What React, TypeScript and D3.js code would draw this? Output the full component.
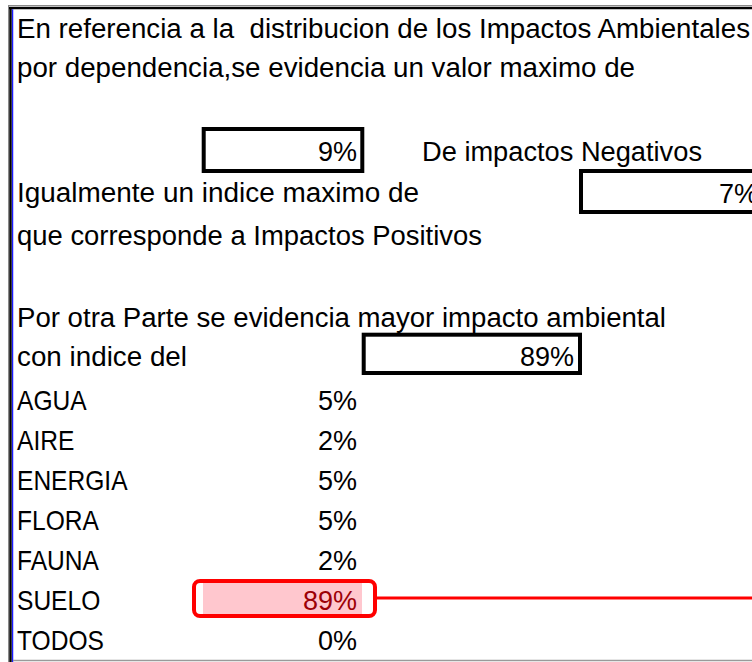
import React from "react";
import * as d3 from "d3";

// ---------- data ----------
const introLines = [
  "En referencia a la  distribucion de los Impactos Ambientales",
  "por dependencia,se evidencia un valor maximo de",
];
const negativeLabel = "De impactos Negativos";
const positiveLines = ["Igualmente un indice maximo de", "que corresponde a Impactos Positivos"];
const overallLines = ["Por otra Parte se evidencia mayor impacto ambiental", "con indice del"];
const negativeMax = 9;
const positiveMax = 7;
const overallMax = 89;
const categories = ["AGUA", "AIRE", "ENERGIA", "FLORA", "FAUNA", "SUELO", "TODOS"];
const values = [5, 2, 5, 5, 2, 89, 0];
const highlighted = "SUELO";

// ---------- layout ----------
const W = 752;
const H = 662;
const FONT = "'Liberation Sans', Arial, sans-serif";
const FS = 27;
const LABEL_X = 17;
const LABEL_SQUEEZE = 0.91;
const VALUE_COL: [number, number] = [203, 363];
const VALUE_RIGHT = VALUE_COL[1] - 6;
const fmt = d3.format(".0%");
const pct = (v: number) => fmt(v / 100);

export default function App() {
  const rowY = d3.scaleBand<string>().domain(categories).range([378, 658]).paddingInner(0);
  const bw = rowY.bandwidth();

  const txt = (s: string, x: number, y: number, len?: number, extra: any = {}) => (
    <text
      x={x}
      y={y}
      fontFamily={FONT}
      fontSize={FS}
      fill="#000"
      style={{ whiteSpace: "pre" }}
      {...(len ? { textLength: len, lengthAdjust: "spacingAndGlyphs" } : {})}
      {...extra}
    >
      {s}
    </text>
  );

  const hy = rowY(highlighted)!;

  return (
    <svg
      width={W}
      height={H}
      viewBox={`0 0 ${W} ${H}`}
      style={{ position: "fixed", left: 0, top: 0, background: "#fff" }}
    >
      <rect x={0} y={0} width={W} height={H} fill="#fff" />

      {/* frame */}
      <line x1={8} x2={W} y1={5.5} y2={5.5} stroke="#8a8a8a" strokeWidth={1} />
      <line x1={9} x2={W} y1={8} y2={8} stroke="#000" strokeWidth={2.5} />
      <line x1={8.5} x2={8.5} y1={5} y2={H} stroke="#8a8a8a" strokeWidth={1} />
      <line x1={10.5} x2={10.5} y1={7} y2={H} stroke="#000" strokeWidth={2.5} />
      <line x1={12.6} x2={12.6} y1={9.3} y2={H} stroke="#1a1aff" strokeWidth={1.3} />
      <line x1={13} x2={W} y1={660.5} y2={660.5} stroke="#9a9a9a" strokeWidth={1.5} />

      {/* intro text */}
      {txt(introLines[0], LABEL_X, 38, 733)}
      {txt(introLines[1], LABEL_X, 77, 618)}

      {/* negative max */}
      <rect x={VALUE_COL[0] + 0.7} y={129} width={VALUE_COL[1] - VALUE_COL[0] - 1.4} height={42} fill="none" stroke="#000" strokeWidth={4} />
      {txt(pct(negativeMax), VALUE_RIGHT, 161, undefined, { textAnchor: "end" })}
      {txt(negativeLabel, 422, 161, 280)}

      {/* positive max */}
      {txt(positiveLines[0], LABEL_X, 202, 402)}
      <rect x={581} y={171} width={300} height={41} fill="none" stroke="#000" strokeWidth={4} />
      {txt(pct(positiveMax), 758, 203, undefined, { textAnchor: "end" })}
      {txt(positiveLines[1], LABEL_X, 245, 465)}

      {/* overall */}
      {txt(overallLines[0], LABEL_X, 327, 649)}
      {txt(overallLines[1], LABEL_X, 366, 170)}
      <rect x={VALUE_COL[1] + 0.7} y={334.7} width={216.3} height={38.3} fill="none" stroke="#000" strokeWidth={4} />
      {txt(pct(overallMax), 574, 366, undefined, { textAnchor: "end" })}

      {/* highlight under SUELO value */}
      <rect x={VALUE_COL[0]} y={hy + 1} width={VALUE_COL[1] - VALUE_COL[0] - 1} height={bw - 4} fill="#ffc7ce" />

      {/* category rows */}
      {categories.map((c, i) => {
        const y = rowY(c)! + 32;
        const hl = c === highlighted;
        return (
          <g key={c}>
            <g transform={`translate(${LABEL_X},${y}) scale(${LABEL_SQUEEZE},1)`}>
              {txt(c, 0, 0)}
            </g>
            {txt(pct(values[i]), VALUE_RIGHT, y, undefined, {
              textAnchor: "end",
              fill: hl ? "#9c0006" : "#000",
            })}
          </g>
        );
      })}

      {/* red callout */}
      <rect x={194} y={hy + 3} width={181} height={35} rx={6} ry={6} fill="none" stroke="#ff0000" strokeWidth={4} />
      <line x1={373} x2={W} y1={hy + 20} y2={hy + 20} stroke="#ff0000" strokeWidth={3} />
    </svg>
  );
}
